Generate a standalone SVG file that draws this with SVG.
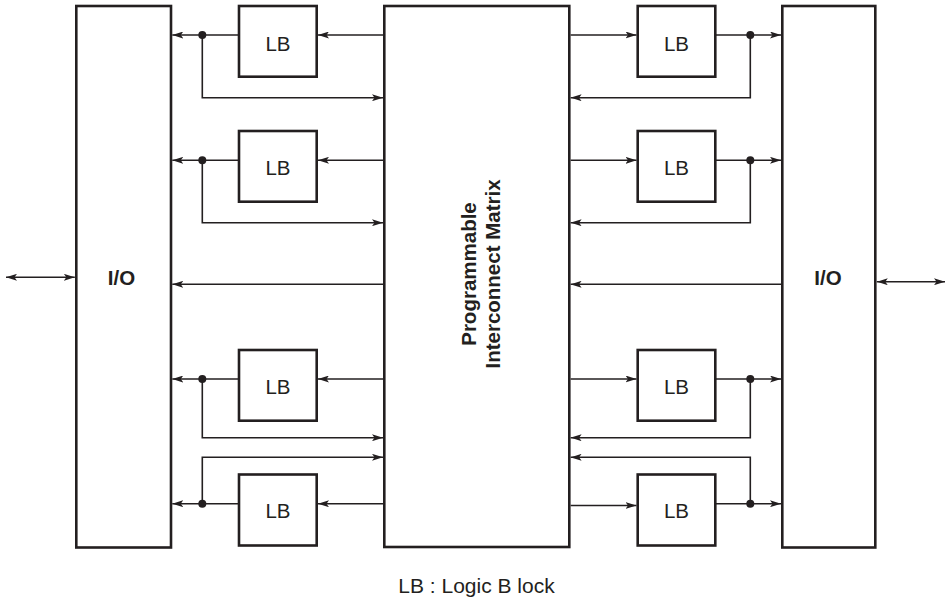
<svg xmlns="http://www.w3.org/2000/svg" width="946" height="601" viewBox="0 0 946 601">
  <style>
    .box { fill: #ffffff; stroke: #231f20; stroke-width: 2.6; }
    .ln { fill: none; stroke: #231f20; stroke-width: 1.6; }
    .arr { marker-end: url(#ah); }
    .dot { fill: #231f20; }
    .lb { font-family: "Liberation Sans", Arial, sans-serif; font-size: 20.5px; fill: #231f20; text-anchor: middle; }
    .bold { font-family: "Liberation Sans", Arial, sans-serif; font-size: 20.5px; font-weight: bold; fill: #231f20; text-anchor: middle; }
    .cap { font-family: "Liberation Sans", Arial, sans-serif; font-size: 21px; fill: #231f20; text-anchor: middle; }
  </style>
  <defs>
    <marker id="ah" viewBox="0 0 11 7" refX="11" refY="3.5" markerWidth="11" markerHeight="7" markerUnits="userSpaceOnUse" orient="auto-start-reverse">
      <path d="M0,0 L11,3.5 L0,7 L2.5,3.5 Z" fill="#231f20"/>
    </marker>
  </defs>
  <rect width="946" height="601" fill="#ffffff"/>

  <g id="io-left">
    <rect class="box" x="76.3" y="6" width="94.7" height="541.5"/>
    <text class="bold" x="121.5" y="285">I/O</text>
  </g>
  <g id="pim">
    <rect class="box" x="384.3" y="6" width="185" height="541"/>
    <text class="bold" transform="translate(476,274) rotate(-90)">Programmable</text>
    <text class="bold" transform="translate(500,274) rotate(-90)">Interconnect Matrix</text>
  </g>
  <g id="io-right">
    <rect class="box" x="782.3" y="6" width="93" height="541.5"/>
    <text class="bold" x="828" y="285">I/O</text>
  </g>

  <g id="lb-l1"><rect class="box" x="239" y="6" width="77.7" height="70.7"/><text class="lb" x="278" y="50.5">LB</text></g>
  <g id="lb-l2"><rect class="box" x="239" y="131" width="77.7" height="70.7"/><text class="lb" x="278" y="175">LB</text></g>
  <g id="lb-l3"><rect class="box" x="239" y="350" width="77.7" height="70.7"/><text class="lb" x="278" y="394">LB</text></g>
  <g id="lb-l4"><rect class="box" x="239" y="474.5" width="77.7" height="71"/><text class="lb" x="278" y="518">LB</text></g>

  <g id="lb-r1"><rect class="box" x="637.7" y="6" width="77.6" height="70.7"/><text class="lb" x="676.5" y="50.5">LB</text></g>
  <g id="lb-r2"><rect class="box" x="637.7" y="131" width="77.6" height="70.7"/><text class="lb" x="676.5" y="175">LB</text></g>
  <g id="lb-r3"><rect class="box" x="637.7" y="350" width="77.6" height="70.7"/><text class="lb" x="676.5" y="394">LB</text></g>
  <g id="lb-r4"><rect class="box" x="637.7" y="474.5" width="77.6" height="71"/><text class="lb" x="676.5" y="518">LB</text></g>

  <g id="connectors">
    <!-- external I/O -->
    <path class="ln" d="M6,277.3 H74.8" marker-start="url(#ah)" marker-end="url(#ah)"/>
    <path class="ln" d="M876.8,281.7 H945" marker-start="url(#ah)" marker-end="url(#ah)"/>

    <!-- middle lines -->
    <path class="ln arr" d="M383,284.3 H172.3"/>
    <path class="ln arr" d="M781,284.3 H570.6"/>

    <!-- left side -->
    <path class="ln arr" d="M383,35 H318"/>
    <path class="ln arr" d="M239,35 H172.3"/>
    <path class="ln arr" d="M202.3,35 V97.7 H383"/>
    <circle class="dot" cx="202.3" cy="35" r="4"/>

    <path class="ln arr" d="M383,160.3 H318"/>
    <path class="ln arr" d="M239,160.3 H172.3"/>
    <path class="ln arr" d="M202.3,160.3 V222.7 H383"/>
    <circle class="dot" cx="202.3" cy="160.3" r="4"/>

    <path class="ln arr" d="M383,379 H318"/>
    <path class="ln arr" d="M239,379 H172.3"/>
    <path class="ln arr" d="M202.3,379 V437.7 H383"/>
    <circle class="dot" cx="202.3" cy="379" r="4"/>

    <path class="ln arr" d="M383,503.7 H318"/>
    <path class="ln arr" d="M239,503.7 H172.3"/>
    <path class="ln arr" d="M202.3,503.7 V457.3 H383"/>
    <circle class="dot" cx="202.3" cy="503.7" r="4"/>

    <!-- right side -->
    <path class="ln arr" d="M570.6,35 H636.5"/>
    <path class="ln arr" d="M715.3,35 H781"/>
    <path class="ln arr" d="M750.3,35 V97.7 H570.6"/>
    <circle class="dot" cx="750.3" cy="35" r="4"/>

    <path class="ln arr" d="M570.6,160.3 H636.5"/>
    <path class="ln arr" d="M715.3,160.3 H781"/>
    <path class="ln arr" d="M750.3,160.3 V222.7 H570.6"/>
    <circle class="dot" cx="750.3" cy="160.3" r="4"/>

    <path class="ln arr" d="M570.6,379 H636.5"/>
    <path class="ln arr" d="M715.3,379 H781"/>
    <path class="ln arr" d="M750.3,379 V437.7 H570.6"/>
    <circle class="dot" cx="750.3" cy="379" r="4"/>

    <path class="ln arr" d="M570.6,505.5 H636.5"/>
    <path class="ln arr" d="M715.3,503.7 H781"/>
    <path class="ln arr" d="M750.3,503.7 V457.3 H570.6"/>
    <circle class="dot" cx="750.3" cy="503.7" r="4"/>
  </g>

  <text id="caption" class="cap" x="476.5" y="593">LB : Logic B lock</text>
</svg>
